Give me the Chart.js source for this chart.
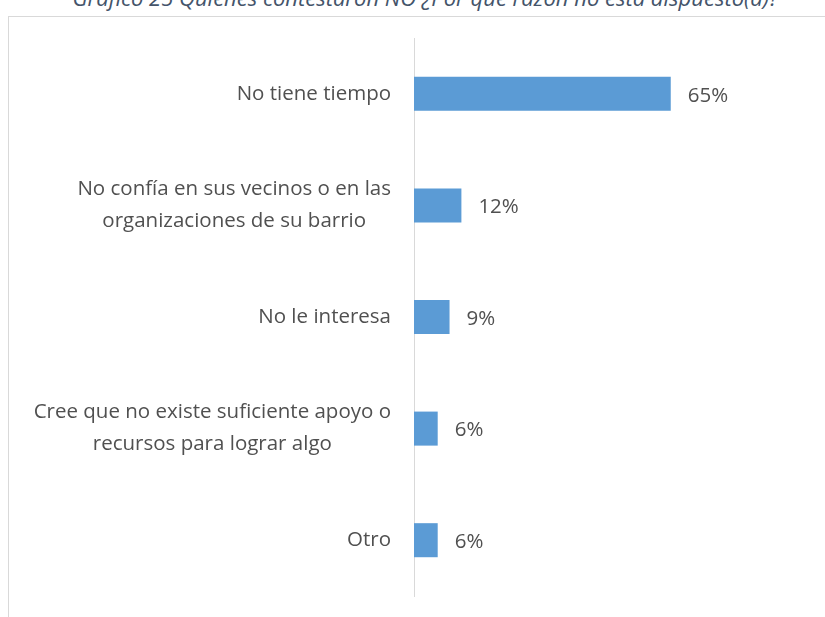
<!DOCTYPE html>
<html>
<head>
<meta charset="utf-8">
<script src="https://cdn.jsdelivr.net/npm/chart.js@4.4.1/dist/chart.umd.min.js"></script>
<style>
  html, body { margin: 0; padding: 0; background: #fff; overflow: hidden; }
  #wrap { position: relative; width: 825px; height: 617px; }
  #title { position: absolute; left: 13px; width: 825px; top: -18px; text-align: center; white-space: nowrap;
    font-family: "Open Sans", sans-serif; font-style: italic; font-size: 22px; color: #44546A; }
  #frame { position: absolute; left: 8px; top: 16px; width: 840px; height: 640px;
    border-left: 1px solid #d9d9d9; border-top: 1px solid #d9d9d9; }
  canvas { position: absolute; left: 0; top: 0; }
</style>
</head>
<body>
<div id="wrap">
  <div id="title">Gráfico 25 Quienes contestaron NO ¿Por qué razón no está dispuesto(a)?</div>
  <div id="frame"></div>
  <canvas id="chart" width="825" height="617"></canvas>
</div>
<script>
// Datos del gráfico
let categories = [
  ["No tiene tiempo"],
  ["No confía en sus vecinos o en las", "organizaciones de su barrio"],
  ["No le interesa"],
  ["Cree que no existe suficiente apoyo o", "recursos para lograr algo"],
  ["Otro"]
];
let values = [0.65, 0.12, 0.09, 0.06, 0.06];
let valueLabels = ["65%", "12%", "9%", "6%", "6%"];

let textColor = "#505050";
let fontFamily = "'Open Sans', sans-serif";

// Etiquetas de categoría (líneas centradas entre sí, bloque alineado a la derecha)
let categoryLabels = {
  id: "categoryLabels",
  afterDraw(chart) {
    let ctx = chart.ctx;
    let yScale = chart.scales.y;
    ctx.save();
    ctx.font = "20.5px " + fontFamily;
    ctx.fillStyle = textColor;
    ctx.textBaseline = "middle";
    ctx.textAlign = "center";
    let rightEdge = yScale.right - 23;
    categories.forEach((lines, i) => {
      let y = yScale.getPixelForValue(i);
      let widest = Math.max(...lines.map(l => ctx.measureText(l).width));
      let cx = rightEdge - widest / 2;
      let lh = 32;
      let start = y - (lines.length - 1) * lh / 2;
      lines.forEach((line, j) => ctx.fillText(line, cx, start + j * lh));
    });
    ctx.restore();
  }
};

// Valores al final de cada barra
let barValues = {
  id: "barValues",
  afterDatasetsDraw(chart) {
    let ctx = chart.ctx;
    let meta = chart.getDatasetMeta(0);
    ctx.save();
    ctx.font = "20.5px " + fontFamily;
    ctx.fillStyle = textColor;
    ctx.textBaseline = "middle";
    ctx.textAlign = "left";
    meta.data.forEach((bar, i) => {
      ctx.fillText(valueLabels[i], bar.x + 17, bar.y + 2);
    });
    ctx.restore();
  }
};

let chart = new Chart(document.getElementById("chart"), {
  type: "bar",
  data: {
    labels: categories,
    datasets: [{
      data: values,
      backgroundColor: "#5B9BD5",
      borderWidth: 0,
      barPercentage: 0.61,
      categoryPercentage: 0.5
    }]
  },
  options: {
    indexAxis: "y",
    responsive: false,
    animation: false,
    layout: { padding: { left: 0, right: 16, top: 38, bottom: 21 } },
    plugins: { legend: { display: false }, tooltip: { enabled: false } },
    scales: {
      y: {
        ticks: { display: false },
        grid: { display: false, drawTicks: false },
        border: { display: true, color: "#d9d9d9", width: 1 },
        afterFit: scale => { scale.width = 414; }
      },
      x: {
        min: 0,
        max: 1,
        display: false
      }
    }
  },
  plugins: [categoryLabels, barValues]
});
</script>
</body>
</html>
